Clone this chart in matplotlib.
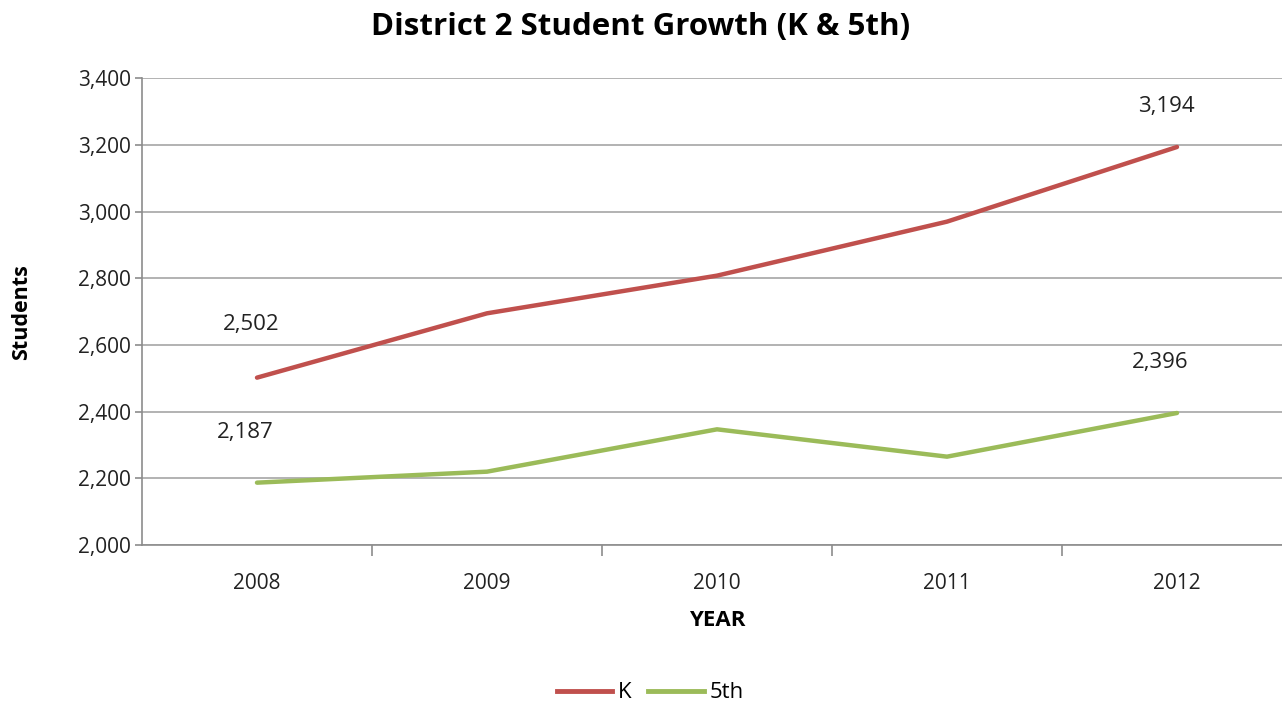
import matplotlib
matplotlib.use("Agg")
import matplotlib.pyplot as plt
from matplotlib.ticker import FuncFormatter, FixedLocator
from matplotlib.lines import Line2D

years = ["2008", "2009", "2010", "2011", "2012"]
k_vals = [2502, 2695, 2808, 2970, 3194]
fifth_vals = [2187, 2220, 2347, 2265, 2396]
series_names = ["K", "5th"]
colors = ["#C0504D", "#9BBB59"]

plt.rcParams['font.family'] = ['Open Sans', 'DejaVu Sans']

fig = plt.figure(figsize=(12.82, 7.04), dpi=100)
# plot area extends slightly past the right edge, as in the reference
ax = fig.add_axes([142/1282, 1-545/704, 1150/1282, (545-78.3)/704])

x = list(range(len(years)))
ax.plot(x, k_vals, color=colors[0], lw=3.2, solid_capstyle='round')
ax.plot(x, fifth_vals, color=colors[1], lw=3.2, solid_capstyle='round')

ax.set_xlim(-0.5, len(years)-0.5)
ax.set_ylim(2000, 3400)
ax.set_yticks(range(2000, 3401, 200))
ax.yaxis.set_major_formatter(FuncFormatter(lambda v, p: f"{int(v):,}"))
ax.grid(axis='y', color='#A6A6A6', lw=1.2)
ax.set_axisbelow(True)

ax.set_xticks(x)
ax.set_xticklabels(years)
ax.tick_params(axis='x', which='major', length=0, labelsize=15, pad=20, labelcolor='#222222')
ax.xaxis.set_minor_locator(FixedLocator([i + 0.5 for i in range(len(years))]))
ax.tick_params(axis='x', which='minor', length=8, width=1.2, color='#8C8C8C', direction='out')
ax.tick_params(axis='y', length=5, width=1.2, color='#8C8C8C', labelsize=15, pad=3,
               labelcolor='#222222')

for side in ['top', 'right']:
    ax.spines[side].set_visible(False)
for side in ['left', 'bottom']:
    ax.spines[side].set_color('#8C8C8C')
    ax.spines[side].set_linewidth(1.2)

def lab(xi, yi, dy, dx=0):
    ax.annotate(f"{yi:,}", (xi, yi), xytext=(dx, dy), textcoords='offset pixels',
                ha='center', va='center', fontsize=16, color='#222222')

lab(0, k_vals[0], 53, -6)
lab(4, k_vals[4], 40, -11)
lab(0, fifth_vals[0], 50, -12)
lab(4, fifth_vals[4], 50, -17)

fig.text(0.5, 1-27/704, "District 2 Student Growth (K & 5th)", ha='center', va='center',
         fontsize=22.5, fontweight='bold')
fig.text(717/1282, 1-621/704, "YEAR", ha='center', va='center', fontsize=16, fontweight='bold')
fig.text(22/1282, 1-312/704, "Students", ha='center', va='center', rotation=90,
         fontsize=15.5, fontweight='bold')

handles = [Line2D([], [], color=colors[0], lw=3.5), Line2D([], [], color=colors[1], lw=3.5)]
fig.legend(handles, series_names, loc='center', bbox_to_anchor=(650/1282, 1-693/704),
           ncol=2, frameon=False, fontsize=16, handlelength=2.5, handletextpad=0.25,
           columnspacing=0.75)

fig.savefig("out.png", dpi=100)
